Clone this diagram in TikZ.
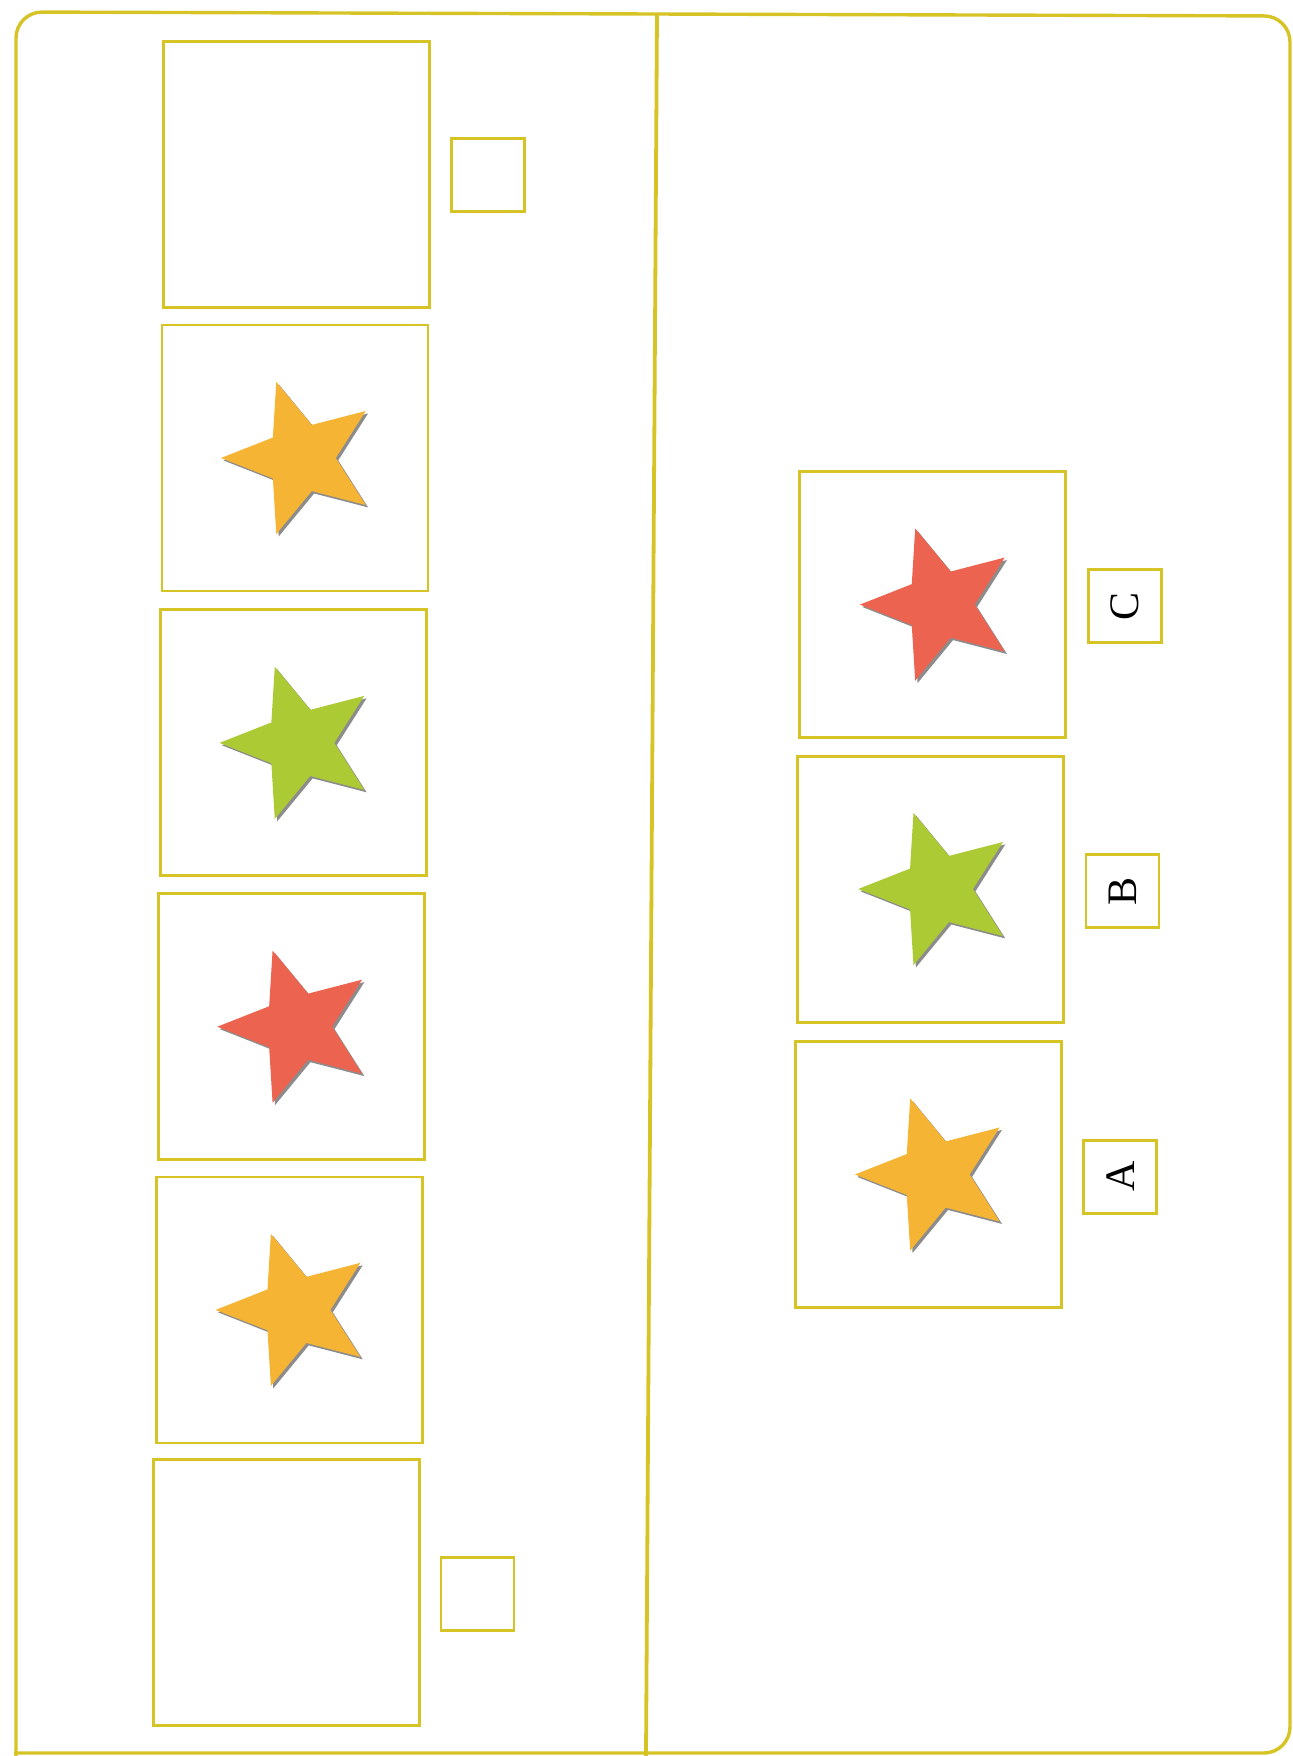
\documentclass[tikz,border=0pt]{standalone}
\usepackage{fontspec}
\setmainfont{Liberation Serif}
\usetikzlibrary{shapes.geometric,shadows}

\definecolor{framecol}{RGB}{214,196,38}
\definecolor{starorange}{RGB}{246,180,52}
\definecolor{stargreen}{RGB}{172,202,52}
\definecolor{starred}{RGB}{236,100,80}

\begin{document}
\begin{tikzpicture}[x=0.5pt, y=-0.5pt,
    card/.style={draw=framecol, line width=1.4pt, minimum width=133pt, minimum height=133pt, inner sep=0pt},
    tag/.style={draw=framecol, line width=1.4pt, minimum width=36.5pt, minimum height=36.5pt, inner sep=0pt,
        rotate=90, font=\fontsize{21}{25}\selectfont},
    pentastar/.style={star, star points=5, star point ratio=2.3, shape border rotate=90, minimum size=80pt,
        inner sep=0pt, draw=none, drop shadow={shadow xshift=1.2pt, shadow yshift=-1.2pt, fill=black!75, opacity=0.6}}]
    \useasboundingbox (0,0) rectangle (1292,1756);

    % outer frame and divider
    \draw[framecol, line width=1.7pt, rounded corners=13pt]
        (16,1762) -- (16,12) -- (1290,16) -- (1290,1753) -- (14,1753);
    \coordinate (divtop) at (657,13);
    \coordinate (divbot) at (646,1756);
    \draw[framecol, line width=1.9pt] (divtop) -- (divbot);

    % left row
    \node[card] (slot1) at (296.7,174.1) {};
    \node[card] (slot2) at (295.0,457.9) {};
    \node[card] (slot3) at (293.3,742.3) {};
    \node[card] (slot4) at (291.7,1026.7) {};
    \node[card] (slot5) at (289.4,1309.9) {};
    \node[card] (slot6) at (286.6,1592.6) {};

    \node[tag] (mark1) at (487.6,174.7) {};
    \node[tag] (mark6) at (477.5,1594.3) {};

    \node[pentastar, fill=starorange] (star2) at (301.0,458.0) {};
    \node[pentastar, fill=stargreen] (star3) at (299.5,742.9) {};
    \node[pentastar, fill=starred] (star4) at (297.3,1026.7) {};
    \node[pentastar, fill=starorange] (star5) at (295.6,1309.9) {};

    % right row: answers
    \node[card] (optC) at (932.6,604.6) {};
    \node[card] (optB) at (930.4,889.5) {};
    \node[card] (optA) at (928.2,1174.5) {};

    \node[pentastar, fill=starred] (starC) at (939.9,604.6) {};
    \node[pentastar, fill=stargreen] (starB) at (938.2,889.0) {};
    \node[pentastar, fill=starorange] (starA) at (934.9,1174.5) {};

    \node[tag] (labC) at (1124.6,606.3) {C};
    \node[tag] (labB) at (1122.4,891.2) {B};
    \node[tag] (labA) at (1120.2,1176.7) {A};
\end{tikzpicture}
\end{document}
